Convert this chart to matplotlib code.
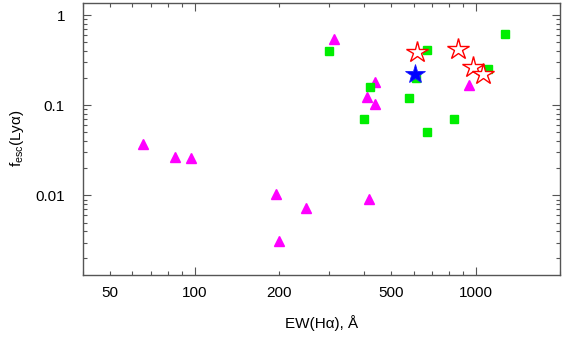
import numpy as np
import matplotlib
matplotlib.use('Agg')
import matplotlib.pyplot as plt
from matplotlib.ticker import LogLocator, FuncFormatter, NullFormatter

# EW(Halpha) in Angstrom and Ly-alpha escape fraction
ew_tri = [65.5, 85, 97, 194, 200, 248, 418, 314, 437, 409, 436, 944]
fesc_tri = [0.037, 0.0267, 0.0258, 0.0104, 0.0031, 0.0072, 0.0092, 0.54, 0.182, 0.122, 0.103, 0.167]

ew_sq = [300, 419, 579, 400, 835, 670, 670, 611, 1100, 1271]
fesc_sq = [0.40, 0.16, 0.119, 0.070, 0.070, 0.050, 0.41, 0.20, 0.251, 0.615]

ew_star = [617, 865, 978, 1061]
fesc_star = [0.39, 0.416, 0.267, 0.221]

ew_blue = [605]
fesc_blue = [0.221]

x_labels = {50: '50', 100: '100', 200: '200', 500: '500', 1000: '1000'}
y_labels = {1: '1', 0.1: '0.1', 0.01: '0.01'}

plt.rcParams['font.family'] = ['Liberation Sans', 'DejaVu Sans']
plt.rcParams['mathtext.fontset'] = 'custom'
plt.rcParams['mathtext.rm'] = 'Liberation Sans'
plt.rcParams['mathtext.it'] = 'Liberation Sans'

axis_col = '#555555'


def fmt_x(v, pos):
    for k, s in x_labels.items():
        if abs(v - k) < 1e-6 * k:
            return s
    return ''


def fmt_y(v, pos):
    for k, s in y_labels.items():
        if abs(v - k) < 1e-6 * k:
            return s
    return ''


def main():
    fig = plt.figure(figsize=(5.62, 3.51), dpi=100)
    ax = fig.add_axes([0.1477, 0.2174, 0.8496, 0.7749])

    ax.plot(ew_tri, fesc_tri, ls='none', marker='^', ms=7.5, color='#ff00ff', mec='#ff00ff', zorder=3)
    ax.plot(ew_sq, fesc_sq, ls='none', marker='s', ms=5.6, color='#00ee00', mec='#00ee00', zorder=4)
    ax.plot(ew_star, fesc_star, ls='none', marker='*', ms=16, mfc='white', mec='#ff0000', mew=1.0, zorder=5)
    ax.plot(ew_blue, fesc_blue, ls='none', marker='*', ms=15, mfc='#0000ff', mec='#1a1aff', mew=0.6, zorder=6)

    ax.set_xscale('log')
    ax.set_yscale('log')
    ax.set_xlim(40, 2000)
    ax.set_ylim(0.00132, 1.37)

    for a in (ax.xaxis, ax.yaxis):
        a.set_major_locator(LogLocator(base=10))
        a.set_minor_locator(LogLocator(base=10, subs=np.arange(2, 10)))
    ax.xaxis.set_major_formatter(FuncFormatter(fmt_x))
    ax.xaxis.set_minor_formatter(FuncFormatter(fmt_x))
    ax.yaxis.set_major_formatter(FuncFormatter(fmt_y))
    ax.yaxis.set_minor_formatter(NullFormatter())

    ax.tick_params(which='both', direction='in', top=True, right=True, color=axis_col, width=0.8,
                   labelsize=11, labelcolor='black')
    ax.tick_params(which='major', length=5.5)
    ax.tick_params(which='minor', length=2.6)
    ax.tick_params(axis='y', which='both', pad=13)
    ax.tick_params(axis='x', which='both', pad=8)

    for sp in ax.spines.values():
        sp.set_color(axis_col)
        sp.set_linewidth(1.0)

    ax.set_xlabel('EW(H\u03b1), \u00c5', fontsize=11)
    ax.set_ylabel('$\\mathrm{f_{esc}}$(Ly\u03b1)', fontsize=11)
    ax.xaxis.set_label_coords(0.5, -0.15)
    ax.yaxis.set_label_coords(-0.12, 0.5)

    fig.savefig('out.png', dpi=100)


if __name__ == "__main__":
    main()
